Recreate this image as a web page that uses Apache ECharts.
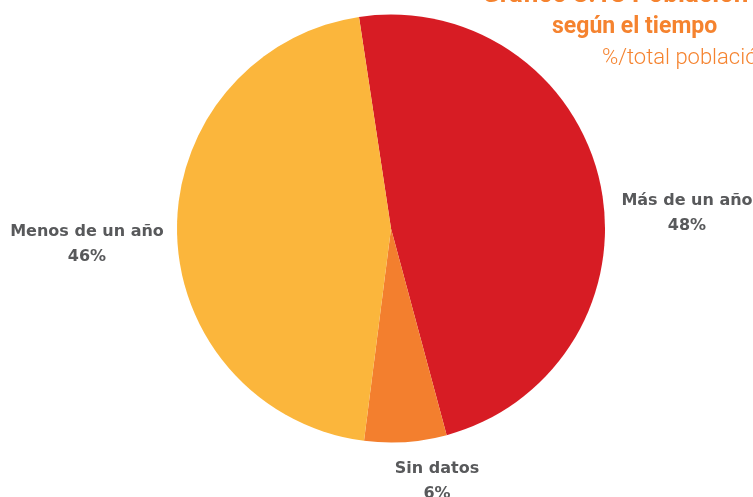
<html>
<head>
    <meta charset="utf-8">
    <script src="https://cdn.jsdelivr.net/npm/echarts@6/dist/echarts.min.js"></script>
    <style>
        html, body { margin: 0; padding: 0; background: #fff; }
        #main { width: 753px; height: 497px; }
    </style>
</head>
<body>
<div id="main"></div>
<script>
    // datos del gráfico
    var categorias = ['Más de un año', 'Sin datos', 'Menos de un año'];
    var valores = [48.2, 6.2, 45.6];
    var colores = ['#D71C24', '#F37F2E', '#FBB63C'];
    // posición de cada etiqueta (centro del bloque de texto)
    var posEtiquetas = [[687, 213], [437, 481], [87, 244]];

    var myChart = echarts.init(document.getElementById('main'));

    var option = {
        animation: false,
        graphic: [
            {
                type: 'text', left: 482, top: -18,
                style: { text: 'Gráfico 3.13 Población', fill: '#F5832F', font: 'bold 26px Roboto' }
            },
            {
                type: 'text', left: 552, top: 16,
                style: { text: 'según el tiempo', fill: '#F5832F', font: 'bold 23px Roboto' }
            },
            {
                type: 'text', left: 602, top: 47,
                style: { text: '%/total población', fill: '#F5832F', font: '300 22px Roboto' }
            }
        ],
        series: [
            {
                type: 'pie',
                center: [391, 228.5],
                radius: [0, 214],
                startAngle: 98.6,
                clockwise: true,
                data: categorias.map(function (c, i) {
                    return { name: c, value: valores[i], itemStyle: { color: colores[i] } };
                }),
                itemStyle: { borderWidth: 0 },
                label: {
                    show: true,
                    position: 'outside',
                    formatter: function (p) {
                        return p.name + '\n' + Math.round(p.value) + '%';
                    },
                    color: '#58595B',
                    fontFamily: 'DejaVu Sans',
                    fontWeight: 'bold',
                    fontSize: 16,
                    lineHeight: 25,
                    align: 'center',
                    overflow: 'none'
                },
                labelLine: { show: false },
                labelLayout: function (params) {
                    var p = posEtiquetas[params.dataIndex];
                    return { x: p[0], y: p[1], align: 'center', verticalAlign: 'middle' };
                },
                emphasis: { disabled: true }
            }
        ]
    };

    myChart.setOption(option);
</script>
</body>
</html>
